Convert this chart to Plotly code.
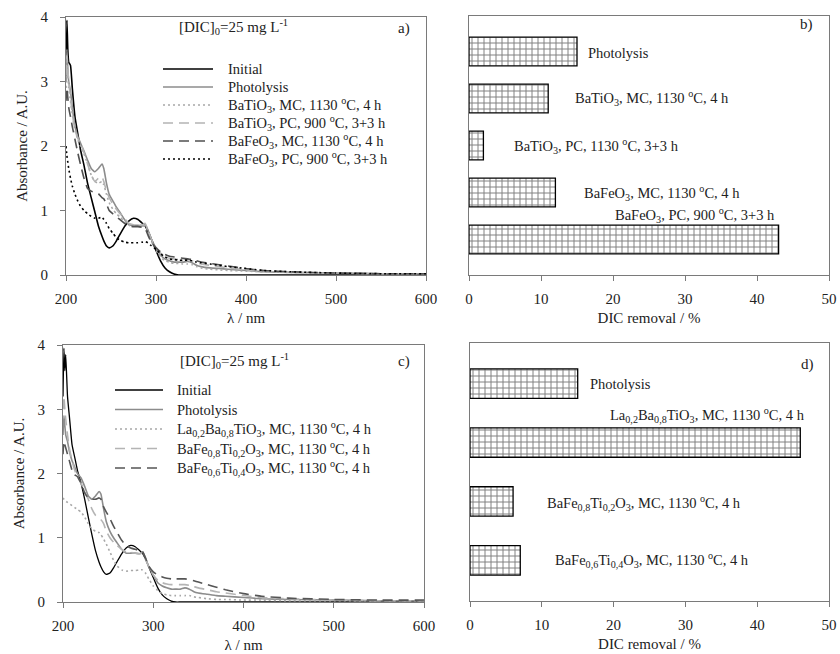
import plotly.graph_objects as go

# ---------------- DATA ----------------
wavelength = [200, 201, 202, 203, 205, 207, 210, 213, 216, 220, 224, 228, 232, 236, 240, 242, 245, 248,
              252, 256, 260, 265, 270, 275, 280, 285, 288, 291, 295, 300, 305, 310, 315, 320, 325, 330,
              335, 340, 345, 350, 360, 370, 380, 400, 420, 450, 500, 550, 600]

# panel a)
a_initial = [3.1, 3.95, 3.5, 3.3, 3.25, 2.9, 2.45, 2.2, 1.95, 1.7, 1.42, 1.2, 0.98, 0.76, 0.6, 0.53, 0.45, 0.42,
             0.45, 0.53, 0.63, 0.75, 0.84, 0.88, 0.86, 0.8, 0.76, 0.68, 0.55, 0.38, 0.22, 0.11, 0.05, 0.015, 0.0, 0.0,
             0.0, 0.0, 0.0, 0.0, 0.0, 0.0, 0.0, 0.0, 0.0, 0.0, 0.0, 0.0, 0.0]
a_photolysis = [3.0, 3.5, 3.2, 3.0, 2.85, 2.6, 2.3, 2.15, 2.05, 1.92, 1.78, 1.65, 1.6, 1.65, 1.72, 1.65, 1.42, 1.25,
                1.15, 1.05, 0.97, 0.86, 0.78, 0.77, 0.77, 0.76, 0.78, 0.7, 0.55, 0.42, 0.31, 0.25, 0.22, 0.2, 0.2, 0.2,
                0.21, 0.19, 0.15, 0.13, 0.11, 0.1, 0.09, 0.07, 0.05, 0.04, 0.03, 0.02, 0.02]
a_batio3_mc = [2.9, 3.3, 3.1, 2.9, 2.7, 2.5, 2.25, 2.1, 2.0, 1.88, 1.72, 1.55, 1.45, 1.42, 1.45, 1.4, 1.25, 1.12,
               1.02, 0.95, 0.9, 0.83, 0.77, 0.76, 0.76, 0.75, 0.77, 0.68, 0.52, 0.38, 0.28, 0.22, 0.2, 0.18, 0.18, 0.17,
               0.17, 0.16, 0.13, 0.11, 0.09, 0.08, 0.07, 0.06, 0.05, 0.04, 0.03, 0.02, 0.02]
a_batio3_pc = [3.1, 3.4, 3.2, 3.0, 2.75, 2.5, 2.25, 2.12, 2.05, 1.9, 1.72, 1.55, 1.45, 1.5, 1.52, 1.45, 1.3, 1.2,
               1.1, 1.02, 0.95, 0.88, 0.8, 0.78, 0.77, 0.78, 0.8, 0.7, 0.55, 0.43, 0.34, 0.29, 0.26, 0.25, 0.24, 0.24,
               0.24, 0.22, 0.19, 0.17, 0.15, 0.13, 0.11, 0.08, 0.06, 0.04, 0.03, 0.02, 0.02]
a_bafeo3_mc = [2.7, 2.9, 2.75, 2.6, 2.45, 2.3, 2.1, 1.9, 1.72, 1.5, 1.34, 1.3, 1.28, 1.26, 1.2, 1.18, 1.1, 1.0,
               0.95, 0.9, 0.86, 0.8, 0.76, 0.75, 0.75, 0.74, 0.72, 0.62, 0.5, 0.42, 0.36, 0.32, 0.29, 0.28, 0.27, 0.26,
               0.25, 0.24, 0.22, 0.2, 0.18, 0.16, 0.14, 0.1, 0.07, 0.05, 0.03, 0.02, 0.02]
a_bafeo3_pc = [2.0, 1.85, 1.75, 1.65, 1.5, 1.38, 1.25, 1.15, 1.07, 1.0, 0.95, 0.91, 0.88, 0.88, 0.9, 0.86, 0.8, 0.72,
               0.65, 0.58, 0.54, 0.51, 0.5, 0.5, 0.5, 0.51, 0.52, 0.5, 0.45, 0.4, 0.33, 0.28, 0.25, 0.24, 0.23, 0.23,
               0.23, 0.22, 0.2, 0.19, 0.17, 0.15, 0.13, 0.1, 0.07, 0.05, 0.03, 0.02, 0.02]

# panel c)
c_initial = [3.2, 3.95, 3.6, 3.85, 3.2, 2.9, 2.45, 2.25, 2.05, 1.85, 1.6, 1.32, 1.05, 0.8, 0.62, 0.55, 0.47, 0.43,
             0.45, 0.53, 0.63, 0.75, 0.84, 0.88, 0.86, 0.8, 0.76, 0.68, 0.55, 0.38, 0.22, 0.11, 0.05, 0.015, 0.0, 0.0,
             0.0, 0.0, 0.0, 0.0, 0.0, 0.0, 0.0, 0.0, 0.0, 0.0, 0.0, 0.0, 0.0]
c_photolysis = [2.6, 2.9, 2.75, 2.6, 2.5, 2.35, 2.2, 2.1, 2.0, 1.93, 1.8, 1.65, 1.6, 1.65, 1.72, 1.68, 1.45, 1.25,
                1.1, 1.0, 0.92, 0.82, 0.76, 0.76, 0.76, 0.75, 0.78, 0.7, 0.55, 0.42, 0.3, 0.25, 0.22, 0.2, 0.2, 0.2,
                0.22, 0.2, 0.16, 0.14, 0.12, 0.1, 0.09, 0.07, 0.05, 0.04, 0.03, 0.02, 0.02]
c_la_batio3 = [1.62, 1.6, 1.58, 1.57, 1.55, 1.53, 1.5, 1.47, 1.44, 1.4, 1.32, 1.22, 1.14, 1.1, 1.08, 1.05, 0.98, 0.9,
               0.78, 0.65, 0.56, 0.5, 0.48, 0.49, 0.49, 0.5, 0.5, 0.46, 0.36, 0.25, 0.18, 0.13, 0.11, 0.1, 0.1, 0.1,
               0.1, 0.1, 0.08, 0.07, 0.05, 0.04, 0.04, 0.03, 0.03, 0.02, 0.02, 0.02, 0.02]
c_bafe08ti02 = [3.0, 3.2, 3.0, 2.85, 2.6, 2.4, 2.2, 2.05, 1.95, 1.85, 1.72, 1.6, 1.45, 1.35, 1.3, 1.28, 1.22, 1.1,
                1.0, 0.93, 0.88, 0.82, 0.78, 0.77, 0.76, 0.75, 0.76, 0.68, 0.55, 0.42, 0.34, 0.3, 0.28, 0.27, 0.27, 0.27,
                0.27, 0.26, 0.24, 0.22, 0.19, 0.16, 0.14, 0.1, 0.07, 0.05, 0.03, 0.02, 0.02]
c_bafe06ti04 = [2.3, 2.5, 2.45, 2.4, 2.3, 2.2, 2.05, 1.98, 1.95, 1.85, 1.7, 1.62, 1.6, 1.6, 1.62, 1.6, 1.48, 1.4,
                1.3, 1.18, 1.08, 0.96, 0.88, 0.84, 0.82, 0.8, 0.79, 0.7, 0.56, 0.47, 0.42, 0.39, 0.37, 0.36, 0.36, 0.36,
                0.36, 0.35, 0.33, 0.31, 0.27, 0.23, 0.19, 0.13, 0.09, 0.06, 0.04, 0.03, 0.03]

# panel b) and d) DIC removal (%)
b_categories = ["Photolysis", "BaTiO3 MC 1130", "BaTiO3 PC 1130", "BaFeO3 MC 1130", "BaFeO3 PC 900"]
b_removal = [15, 11, 2, 12, 43]
b_labels = ["Photolysis",
            "BaTiO<sub>3</sub>, MC, 1130 <sup>o</sup>C, 4 h",
            "BaTiO<sub>3</sub>, PC, 1130 <sup>o</sup>C, 3+3 h",
            "BaFeO<sub>3</sub>, MC, 1130 <sup>o</sup>C, 4 h",
            "BaFeO<sub>3</sub>, PC, 900 <sup>o</sup>C, 3+3 h"]

d_categories = ["Photolysis", "La0.2Ba0.8TiO3", "BaFe0.8Ti0.2O3", "BaFe0.6Ti0.4O3"]
d_removal = [15, 46, 6, 7]
d_labels = ["Photolysis",
            "La<sub>0,2</sub>Ba<sub>0,8</sub>TiO<sub>3</sub>, MC, 1130 <sup>o</sup>C, 4 h",
            "BaFe<sub>0,8</sub>Ti<sub>0,2</sub>O<sub>3</sub>, MC, 1130 <sup>o</sup>C, 4 h",
            "BaFe<sub>0,6</sub>Ti<sub>0,4</sub>O<sub>3</sub>, MC, 1130 <sup>o</sup>C, 4 h"]

a_names = ["Initial", "Photolysis",
           "BaTiO<sub>3</sub>, MC, 1130 <sup>o</sup>C, 4 h",
           "BaTiO<sub>3</sub>, PC, 900 <sup>o</sup>C, 3+3 h",
           "BaFeO<sub>3</sub>, MC, 1130 <sup>o</sup>C, 4 h",
           "BaFeO<sub>3</sub>, PC, 900 <sup>o</sup>C, 3+3 h"]
c_names = ["Initial", "Photolysis",
           "La<sub>0,2</sub>Ba<sub>0,8</sub>TiO<sub>3</sub>, MC, 1130 <sup>o</sup>C, 4 h",
           "BaFe<sub>0,8</sub>Ti<sub>0,2</sub>O<sub>3</sub>, MC, 1130 <sup>o</sup>C, 4 h",
           "BaFe<sub>0,6</sub>Ti<sub>0,4</sub>O<sub>3</sub>, MC, 1130 <sup>o</sup>C, 4 h"]

# ---------------- STYLE / LAYOUT ----------------
FONT = "Liberation Serif"
W, H = 840, 654


def px(x):
    return x / W


def py(y):
    return 1 - y / H


DOT = "2px,3px"
DASH = "10px,6px"

a_styles = [("#000000", "solid", 1.6), ("#8c8c8c", "solid", 1.6), ("#a8a8a8", DOT, 1.6),
            ("#b4b4b4", DASH, 1.6), ("#505050", DASH, 1.6), ("#000000", DOT, 1.6)]
c_styles = [("#000000", "solid", 1.3), ("#8c8c8c", "solid", 1.6), ("#a8a8a8", DOT, 1.6),
            ("#b4b4b4", DASH, 1.6), ("#555555", DASH, 1.6)]

fig = go.Figure()

for ys, name, (col, dash, w) in zip([a_initial, a_photolysis, a_batio3_mc, a_batio3_pc, a_bafeo3_mc, a_bafeo3_pc],
                                    a_names, a_styles):
    fig.add_trace(go.Scatter(x=wavelength, y=ys, name=name, mode="lines", showlegend=False,
                             line=dict(color=col, dash=dash, width=w, shape="spline", smoothing=0.4),
                             xaxis="x", yaxis="y"))

for ys, name, (col, dash, w) in zip([c_initial, c_photolysis, c_la_batio3, c_bafe08ti02, c_bafe06ti04],
                                    c_names, c_styles):
    fig.add_trace(go.Scatter(x=wavelength, y=ys, name=name, mode="lines", showlegend=False,
                             line=dict(color=col, dash=dash, width=w, shape="spline", smoothing=0.4),
                             xaxis="x3", yaxis="y3"))

bar_marker = dict(color="white", line=dict(color="black", width=1.3),
                  pattern=dict(shape="+", fgcolor="black", bgcolor="white", size=6, solidity=0.3))

fig.add_trace(go.Bar(x=b_removal, y=b_categories, orientation="h", width=0.61, marker=bar_marker,
                     xaxis="x2", yaxis="y2", showlegend=False, name="DIC removal"))
fig.add_trace(go.Bar(x=d_removal, y=d_categories, orientation="h", width=0.5, marker=bar_marker,
                     xaxis="x4", yaxis="y4", showlegend=False, name="DIC removal"))

axis_common = dict(showgrid=False, zeroline=False, showline=True, mirror=True, linecolor="#7a7a7a",
                   linewidth=1, ticks="outside", ticklen=5, tickcolor="#7a7a7a",
                   tickfont=dict(family=FONT, size=15, color="#222222"), automargin=False)
xaxis_common = dict(axis_common, ticklabelstandoff=5)
yaxis_common = dict(axis_common, ticklabelstandoff=9)
title_font = dict(family=FONT, size=15, color="#222222")

fig.update_layout(
    width=W, height=H, margin=dict(l=0, r=0, t=0, b=0),
    paper_bgcolor="white", plot_bgcolor="white",
    font=dict(family=FONT, size=14, color="#222222"),
    showlegend=False,
    xaxis=dict(xaxis_common, domain=[px(66), px(426)], range=[200, 600], dtick=100, anchor="y",
               title=dict(text="λ / nm", font=title_font, standoff=6)),
    yaxis=dict(yaxis_common, domain=[py(275), py(17)], range=[0, 4], dtick=1, anchor="x",
               title=dict(text="Absorbance / A.U.", font=title_font, standoff=9)),
    xaxis2=dict(xaxis_common, domain=[px(469), px(829)], range=[0, 50], dtick=10, anchor="y2",
                title=dict(text="DIC removal / %", font=title_font, standoff=6)),
    yaxis2=dict(axis_common, domain=[py(275), py(16)], type="category", categoryarray=b_categories,
                range=[4.755, -0.755], showticklabels=False, ticks="", anchor="x2"),
    xaxis3=dict(xaxis_common, domain=[px(63), px(424)], range=[200, 600], dtick=100, anchor="y3",
                title=dict(text="λ / nm", font=title_font, standoff=6)),
    yaxis3=dict(yaxis_common, domain=[py(602), py(345)], range=[0, 4], dtick=1, anchor="x3",
                title=dict(text="Absorbance / A.U.", font=title_font, standoff=9)),
    xaxis4=dict(xaxis_common, domain=[px(470), px(829)], range=[0, 50], dtick=10, anchor="y4",
                title=dict(text="DIC removal / %", font=title_font, standoff=6)),
    yaxis4=dict(axis_common, domain=[py(601), py(343)], type="category", categoryarray=d_categories,
                range=[3.69, -0.69], showticklabels=False, ticks="", anchor="x4"),
)

ann = []
shapes = []

# hand-drawn legends (sample line + text), placed in page pixels
a_leg_rows = [69 + 18 * i for i in range(len(a_names))]
for name, (col, dash, w), yy in zip(a_names, a_styles, a_leg_rows):
    shapes.append(dict(type="line", xref="paper", yref="paper", x0=px(163), x1=px(213), y0=py(yy), y1=py(yy),
                       line=dict(color=col, dash=dash, width=w)))
    ann.append(dict(text=name, xref="paper", yref="paper", x=px(226), y=py(yy), xanchor="left",
                    yanchor="middle", showarrow=False, font=dict(family=FONT, size=14.5)))

c_leg_rows = [390 + 19.5 * i for i in range(len(c_names))]
for name, (col, dash, w), yy in zip(c_names, c_styles, c_leg_rows):
    shapes.append(dict(type="line", xref="paper", yref="paper", x0=px(115), x1=px(163), y0=py(yy), y1=py(yy),
                       line=dict(color=col, dash=dash, width=w)))
    ann.append(dict(text=name, xref="paper", yref="paper", x=px(175), y=py(yy), xanchor="left",
                    yanchor="middle", showarrow=False, font=dict(family=FONT, size=14.5)))

# panel texts
conc = "[DIC]<sub>0</sub>=25 mg L<sup>-1</sup>"
ann.append(dict(text=conc, xref="paper", yref="paper", x=px(177), y=py(27), xanchor="left", yanchor="middle",
                showarrow=False, font=dict(family=FONT, size=15)))
ann.append(dict(text=conc, xref="paper", yref="paper", x=px(178), y=py(361), xanchor="left", yanchor="middle",
                showarrow=False, font=dict(family=FONT, size=15)))
for t, x, y in [("a)", 412, 28), ("b)", 815, 25), ("c)", 412, 361), ("d)", 816, 364)]:
    ann.append(dict(text=t, xref="paper", yref="paper", x=px(x), y=py(y), xanchor="right", yanchor="middle",
                    showarrow=False, font=dict(family=FONT, size=15)))

# bar labels
b_label_x = [16.3, 14.4, 6.0, 15.7, 20.0]
b_label_shift = [-2, 0, 0, 0, 25]
for cat, lab, lx, sh in zip(b_categories, b_labels, b_label_x, b_label_shift):
    ann.append(dict(text=lab, xref="x2", yref="y2", x=lx, y=cat, xanchor="left", yanchor="middle", yshift=sh,
                    showarrow=False, font=dict(family=FONT, size=14.5)))
d_label_x = [16.4, 19.2, 10.4, 11.6]
d_label_shift = [0, 28, -2, 0]
for cat, lab, lx, sh in zip(d_categories, d_labels, d_label_x, d_label_shift):
    ann.append(dict(text=lab, xref="x4", yref="y4", x=lx, y=cat, xanchor="left", yanchor="middle", yshift=sh,
                    showarrow=False, font=dict(family=FONT, size=14.5)))

fig.update_layout(annotations=ann, shapes=shapes)

fig.write_html("out.html", config={"displayModeBar": False},
               post_script="document.body.style.margin='0';")
